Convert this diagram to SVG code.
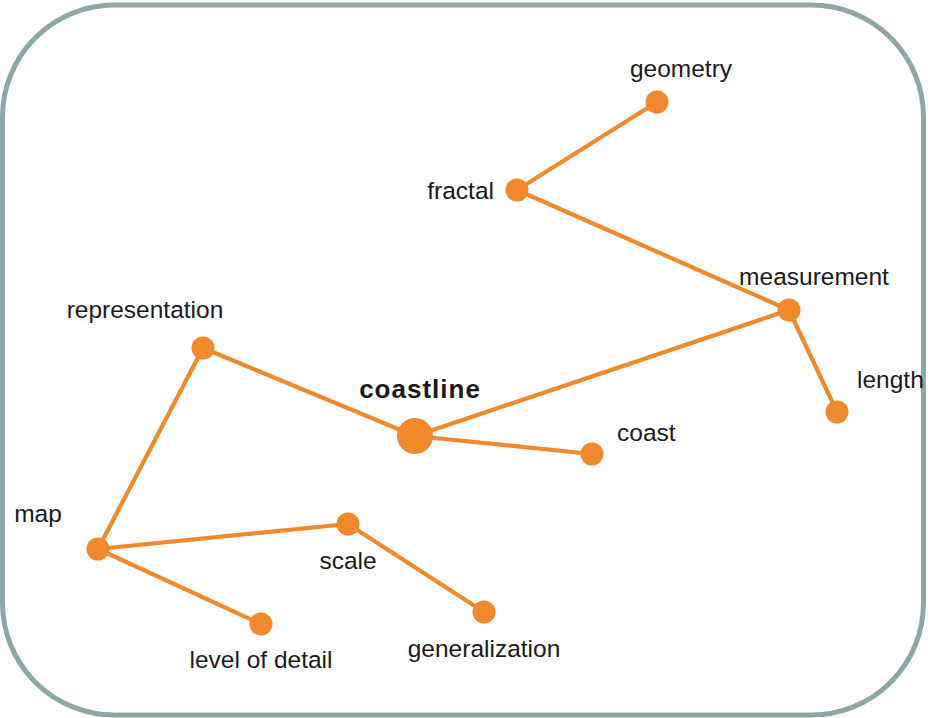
<svg xmlns="http://www.w3.org/2000/svg" width="934" height="718" viewBox="0 0 934 718">
<style>
.e{stroke:#F0892B;stroke-width:4.2;stroke-linecap:round;fill:none}
.n{fill:#F0892B}
.t{font-family:"Liberation Sans",Arial,sans-serif;font-size:24.5px;fill:#1a1a1a}
.b{font-weight:bold;font-size:26px;letter-spacing:1px}
</style>
<rect x="2.5" y="5" width="921" height="710" rx="112" ry="112" fill="#ffffff" stroke="#8EA6A6" stroke-width="5"/>
<g id="edges">
<line class="e" x1="657" y1="102" x2="517" y2="190"/>
<line class="e" x1="517" y1="190" x2="789" y2="310"/>
<line class="e" x1="789" y1="310" x2="415" y2="436"/>
<line class="e" x1="789" y1="310" x2="837" y2="412"/>
<line class="e" x1="415" y1="436" x2="203" y2="348"/>
<line class="e" x1="415" y1="436" x2="592" y2="454"/>
<line class="e" x1="203" y1="348" x2="98" y2="549"/>
<line class="e" x1="98" y1="549" x2="348" y2="524"/>
<line class="e" x1="98" y1="549" x2="261" y2="624"/>
<line class="e" x1="348" y1="524" x2="484" y2="612"/>
</g>
<g id="geometry"><circle class="n" cx="657" cy="102" r="11.5"/><text class="t" x="681" y="77" text-anchor="middle">geometry</text></g>
<g id="fractal"><circle class="n" cx="517" cy="190" r="11.5"/><text class="t" x="494" y="199" text-anchor="end">fractal</text></g>
<g id="measurement"><circle class="n" cx="789" cy="310" r="11.5"/><text class="t" x="814" y="285" text-anchor="middle">measurement</text></g>
<g id="length"><circle class="n" cx="837" cy="412" r="11.5"/><text class="t" x="857" y="388">length</text></g>
<g id="representation"><circle class="n" cx="203" cy="348" r="11.5"/><text class="t" x="145" y="318" text-anchor="middle">representation</text></g>
<g id="coastline"><circle class="n" cx="415" cy="436" r="18"/><text class="t b" x="420" y="398" text-anchor="middle">coastline</text></g>
<g id="coast"><circle class="n" cx="592" cy="454" r="11.5"/><text class="t" x="617" y="441">coast</text></g>
<g id="map"><circle class="n" cx="98" cy="549" r="11.5"/><text class="t" x="38" y="522" text-anchor="middle">map</text></g>
<g id="scale"><circle class="n" cx="348" cy="524" r="11.5"/><text class="t" x="348" y="569" text-anchor="middle">scale</text></g>
<g id="generalization"><circle class="n" cx="484" cy="612" r="11.5"/><text class="t" x="484" y="657" text-anchor="middle">generalization</text></g>
<g id="level-of-detail"><circle class="n" cx="261" cy="624" r="11.5"/><text class="t" x="261" y="668" text-anchor="middle">level of detail</text></g>
</svg>
